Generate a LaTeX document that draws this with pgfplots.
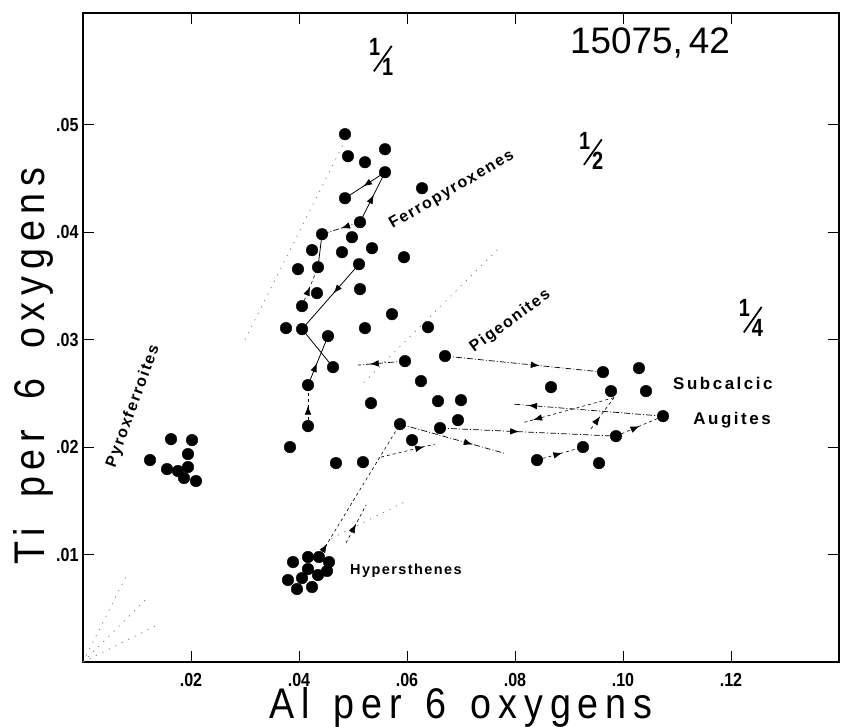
\documentclass[border=0pt]{standalone}
\usepackage{pgfplots}
\pgfplotsset{compat=1.18}
\usepackage{fontspec}
\usetikzlibrary{decorations.markings,arrows.meta}
\setmainfont{Liberation Sans}
\newfontfamily\narrowfont[FakeStretch=0.85]{Liberation Sans}
\newfontfamily\axfont[FakeStretch=0.88,LetterSpace=16]{Liberation Sans}
\newfontfamily\annfont[LetterSpace=10]{Liberation Sans}
\newfontfamily\wideann[LetterSpace=15]{Liberation Sans}
\newfontfamily\fracfont[FakeStretch=0.8]{Liberation Sans}

\newcommand{\fr}[2]{{\fracfont\fontsize{25}{25}\selectfont\bfseries
  \raisebox{0.5em}{#1}\kern-0.28em\raisebox{-0.15em}{\rotatebox{55}{\rule{1.25em}{0.07em}}}\kern-0.42em\raisebox{-0.3em}{#2}}}

\tikzset{
  mid/.style={postaction={decorate},
    decoration={markings, mark=at position #1 with {\arrow{Latex[length=9bp,width=6.5bp]}}}},
  tie/.style={black, line width=0.8bp},
  dd/.style={black, line width=0.7bp, dash pattern=on 6bp off 2bp on 1bp off 2bp},
  ds/.style={black, line width=0.6bp, dash pattern=on 3bp off 3bp},
  guide/.style={black!50, line width=0.8bp, dash pattern=on 1.2bp off 6bp},
}

% Al  Ti  (per 6 oxygens)
\pgfplotstableread{
al      ti
0.04852 0.04912
0.04907 0.04707
0.05593 0.04772
0.05222 0.04651
0.05593 0.04558
0.04852 0.04316
0.06278 0.04409
0.05130 0.04093
0.04426 0.03981
0.04981 0.03953
0.04241 0.03833
0.04796 0.03814
0.05352 0.03851
0.05944 0.03767
0.05111 0.03702
0.04352 0.03674
0.03981 0.03656
0.05130 0.03470
0.04333 0.03433
0.04056 0.03312
0.05722 0.03237
0.03759 0.03107
0.04056 0.03098
0.05222 0.03107
0.06389 0.03116
0.04537 0.03033
0.05963 0.02800
0.04630 0.02744
0.06259 0.02614
0.04167 0.02577
0.05333 0.02409
0.06704 0.02847
0.06574 0.02428
0.07000 0.02437
0.06944 0.02251
0.05870 0.02214
0.06611 0.02177
0.06093 0.02065
0.03833 0.02000
0.04167 0.02195
0.04685 0.01851
0.05185 0.01860
0.08667 0.02558
0.09630 0.02698
0.10296 0.02735
0.09778 0.02521
0.10426 0.02521
0.10741 0.02288
0.09870 0.02102
0.09259 0.02000
0.09556 0.01851
0.08407 0.01879
}\pyroxenes

\pgfplotstableread{
al      ti
0.01241 0.01879
0.01630 0.02074
0.02019 0.02065
0.01944 0.01935
0.01556 0.01795
0.01759 0.01777
0.01944 0.01814
0.01870 0.01712
0.02093 0.01684
}\pyroxferroites

\pgfplotstableread{
al      ti
0.03889 0.00930
0.04167 0.00977
0.04370 0.00977
0.04556 0.00930
0.04167 0.00865
0.04519 0.00847
0.04352 0.00809
0.03796 0.00763
0.04056 0.00781
0.03963 0.00679
0.04241 0.00698
}\hypersthenes

\begin{document}
\begin{tikzpicture}
\begin{axis}[
  scale only axis, width=756bp, height=649bp,
  xmin=0, xmax=0.14, ymin=0, ymax=0.0604,
  axis line style={line width=1.2bp},
  xtick={0.02,0.04,0.06,0.08,0.10,0.12},
  xticklabels={.02,.04,.06,.08,.10,.12},
  ytick={0.01,0.02,0.03,0.04,0.05},
  yticklabels={.01,.02,.03,.04,.05},
  tick align=inside, major tick length=11bp,
  tick style={black, line width=1bp},
  ticklabel style={font=\narrowfont\bfseries\fontsize{19}{19}\selectfont},
  xticklabel style={yshift=-8bp},
  yticklabel style={xshift=-1bp},
  xlabel={Al\hspace{24bp}per\hspace{24bp}6\hspace{24bp}oxygens},
  ylabel={Ti\hspace{30bp}per\hspace{30bp}6\hspace{30bp}oxygens},
  label style={font=\axfont\fontsize{43}{43}\selectfont},
  xlabel style={at={(axis description cs:0.5000,-0.0700)}, anchor=center},
  ylabel style={at={(axis description cs:-0.0661,0.4560)}, anchor=center, rotate=0},
  clip=false,
]
% ratio guide lines from the origin (faint, partly lost in the original)
\addplot[guide] coordinates {(0,0) (0.008,0.008)};
\addplot[guide] coordinates {(0.030,0.030) (0.0497,0.0497)};
\addplot[guide] coordinates {(0,0) (0.012,0.006)};
\addplot[guide] coordinates {(0.052,0.026) (0.077,0.0385)};
\addplot[guide] coordinates {(0,0) (0.014,0.0035)};
\addplot[guide] coordinates {(0.046,0.0115) (0.060,0.015)};

% tie lines
\addplot[tie, mid=0.55] coordinates {(0.05593,0.04558) (0.04852,0.04316)};
\addplot[tie, mid=0.55] coordinates {(0.05130,0.04093) (0.05593,0.04558)};
\addplot[dd, mid=0.5] coordinates {(0.05130,0.04093) (0.04426,0.03981)};
\addplot[tie] coordinates {(0.04426,0.03981) (0.04352,0.03674)};
\addplot[ds, mid=0.5] coordinates {(0.04056,0.03312) (0.04352,0.03674)};
\addplot[tie, mid=0.45] coordinates {(0.05111,0.03702) (0.04056,0.03098)};
\addplot[tie] coordinates {(0.04056,0.03098) (0.04630,0.02744)};
\addplot[tie, mid=0.45] coordinates {(0.04167,0.02577) (0.04537,0.03033)};
\addplot[dd, mid=0.75] coordinates {(0.05963,0.02800) (0.05093,0.02763)};
\addplot[dd, mid=0.6] coordinates {(0.06704,0.02847) (0.09630,0.02698)};
\addplot[ds, mid=0.5] coordinates {(0.04167,0.02195) (0.04167,0.02577)};
\addplot[dd, mid=0.9] coordinates {(0.10741,0.02288) (0.07963,0.02400)};
\addplot[ds, mid=0.5] coordinates {(0.09870,0.02102) (0.10741,0.02288)};
\addplot[ds, mid=0.55] coordinates {(0.08407,0.01879) (0.09259,0.02000)};
\addplot[dd, mid=0.45] coordinates {(0.06611,0.02177) (0.09870,0.02102)};
\addplot[dd, mid=0.7] coordinates {(0.05870,0.02214) (0.07796,0.01944)};
\addplot[ds, mid=0.1] coordinates {(0.04370,0.00977) (0.05870,0.02214)};
\addplot[ds, mid=0.5] coordinates {(0.04870,0.01107) (0.05241,0.01460)};
\addplot[ds, mid=0.8] coordinates {(0.05519,0.01907) (0.06519,0.02028)};
\addplot[ds, mid=0.9] coordinates {(0.09833,0.02460) (0.08167,0.02230)};
\addplot[ds, mid=0.4] coordinates {(0.09407,0.02170) (0.09833,0.02460)};

% analyses
\addplot[only marks, mark=*, mark size=5.8bp, black] table[x=al, y=ti] {\pyroxenes};
\addplot[only marks, mark=*, mark size=5.8bp, black] table[x=al, y=ti] {\pyroxferroites};
\addplot[only marks, mark=*, mark size=5.8bp, black] table[x=al, y=ti] {\hypersthenes};

% annotations
\node[font=\fontsize{37}{37}\selectfont] at (axis cs:0.1050,0.0576) {15075,\,42};
\node at (axis cs:0.0552,0.0563) {\fr{1}{1}};
\node at (axis cs:0.0941,0.0476) {\fr{1}{2}};
\node at (axis cs:0.1237,0.0320) {\fr{1}{4}};
\node[font=\annfont\bfseries\fontsize{16}{16}\selectfont, rotate=30] at (axis cs:0.0683,0.0439) {Ferropyroxenes};
\node[font=\annfont\bfseries\fontsize{16}{16}\selectfont, rotate=36] at (axis cs:0.0791,0.0317) {Pigeonites};
\node[font=\annfont\bfseries\fontsize{16}{16}\selectfont, rotate=70] at (axis cs:0.0093,0.0238) {Pyroxferroites};
\node[font=\wideann\bfseries\fontsize{17}{17}\selectfont] at (axis cs:0.1185,0.0259) {Subcalcic};
\node[font=\wideann\bfseries\fontsize{17}{17}\selectfont] at (axis cs:0.1202,0.0225) {Augites};
\node[font=\annfont\bfseries\fontsize{14.5}{14.5}\selectfont] at (axis cs:0.0598,0.00847) {Hypersthenes};
\end{axis}
\pgfresetboundingbox
\path[use as bounding box] (-83bp,-65bp) rectangle (758bp,662bp);
\end{tikzpicture}
\end{document}
